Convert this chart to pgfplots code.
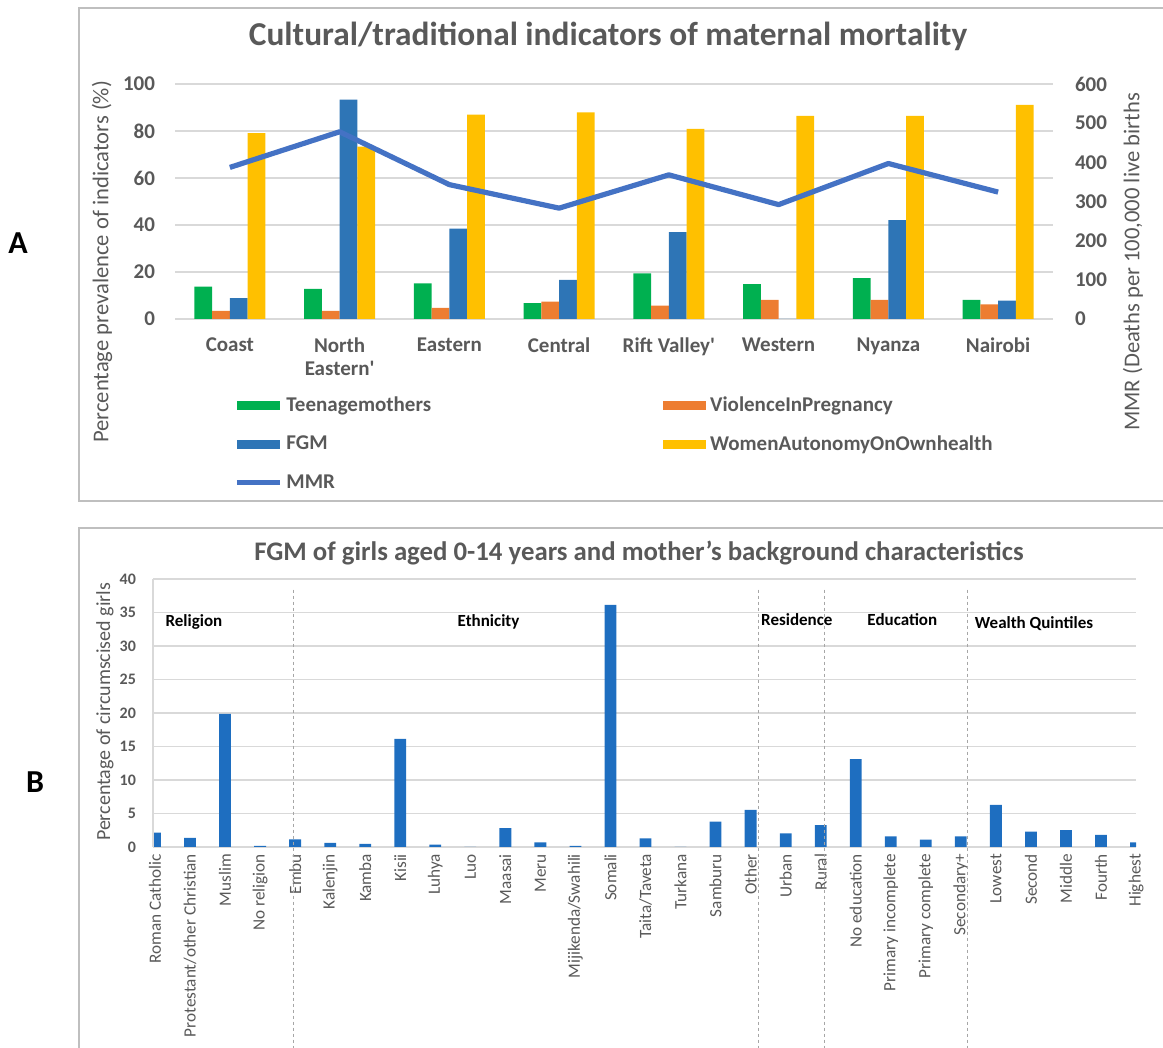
\documentclass[border=0pt]{standalone}
\usepackage{pgfplots}
\pgfplotsset{compat=1.18}
\usepackage{pgfplotstable}
\usepackage{fontspec}
\setmainfont{Carlito}
\definecolor{cgreen}{HTML}{00B050}
\definecolor{corange}{HTML}{ED7D31}
\definecolor{cblue}{HTML}{2E75B6}
\definecolor{cyellow}{HTML}{FFC000}
\definecolor{cmmr}{HTML}{4472C4}
\definecolor{cbar}{HTML}{1E6EC0}
\definecolor{tgray}{HTML}{595959}
\definecolor{ggray}{HTML}{D9D9D9}
\definecolor{fgray}{HTML}{BFBFBF}

\pgfplotstableread{
idx T V F W MMR
0 13.8 3.5 8.9 79.1 387
1 12.8 3.5 93.3 73.3 478
2 15.2 4.7 38.4 87.0 343
3 6.7 7.4 16.6 87.9 283
4 19.4 5.7 37.0 80.9 368
5 14.8 8.1 0 86.4 292
6 17.4 8.1 42.1 86.4 397
7 8.1 6.2 7.8 91.1 324
}\dataA

\pgfplotstableread{
idx val
0 2.15
1 1.35
2 19.85
3 0.15
4 1.15
5 0.6
6 0.45
7 16.15
8 0.35
9 0
10 2.8
11 0.7
12 0.15
13 36.15
14 1.3
15 0
16 3.8
17 5.55
18 2.05
19 3.25
20 13.1
21 1.6
22 1.1
23 1.6
24 6.3
25 2.3
26 2.5
27 1.8
28 0.7
}\dataB

\tikzset{sep/.style={gray!70, line width=0.4pt, dash pattern=on 1.5pt off 1.5pt}}

\begin{document}
\begin{tikzpicture}
\useasboundingbox (0,0) rectangle (581.5pt,524pt);
\clip (0,0) rectangle (581.5pt,524pt);
% frames
\draw[fgray, line width=1pt] (600pt,520pt) -- (39.5pt,520pt) -- (39.5pt,273.5pt) -- (600pt,273.5pt);
\draw[fgray, line width=1pt] (600pt,260pt) -- (39.5pt,260pt) -- (39.5pt,-10pt);
\node[font=\bfseries\fontsize{16}{18}\selectfont] at (9pt,402.5pt) {A};
\node[font=\bfseries\fontsize{16}{18}\selectfont] at (17.5pt,133pt) {B};
\node[font=\bfseries\fontsize{16.7}{19}\selectfont, text=tgray] at (304pt,506pt) {Cultural/traditional indicators of maternal mortality};
\node[font=\bfseries\fontsize{13.4}{15}\selectfont, text=tgray] at (319.5pt,247.5pt) {FGM of girls aged 0-14 years and mother’s background characteristics};

% ---------------- Panel A, left axis
\begin{axis}[
  at={(87.5pt,364.5pt)}, anchor=south west,
  scale only axis, width=439pt, height=117.5pt,
  xmin=-0.5, xmax=7.5, ymin=0, ymax=100,
  axis line style={draw=none}, major tick length=0pt,
  ymajorgrids, grid style={ggray, line width=0.6pt},
  ytick={0,20,...,100},
  xtick={0,...,7},
  xticklabels={Coast,{North\\Eastern\textquotesingle},Eastern,Central,Rift Valley\textquotesingle,Western,Nyanza,Nairobi},
  xticklabel style={font=\bfseries\fontsize{10.5}{11.5}\selectfont, text=tgray, align=center, yshift=-6pt},
  yticklabel style={font=\bfseries\fontsize{10.5}{12}\selectfont, text=tgray, xshift=-6.5pt},
  /pgf/number format/assume math mode=true,
  ylabel={Percentage prevalence of indicators (\%)},
  ylabel style={at={(axis description cs:-0.083,0.243)}, anchor=center, font=\fontsize{11.3}{13}\selectfont, text=tgray},
  legend columns=2, legend cell align=left,
  legend style={at={(axis description cs:0.0672,-0.313)}, anchor=north west, draw=none, fill=none, inner sep=0pt,
    font=\bfseries\fontsize{10.5}{12}\selectfont, nodes={text=tgray}, row sep=6.5pt,
    /tikz/every even column/.append style={column sep=114pt}},
]
\addplot[ybar, bar width=8.9pt, bar shift=-13.35pt, fill=cgreen, draw=none,
  legend image code/.code={\fill[cgreen] (0pt,-2.25pt) rectangle (21.5pt,2.25pt);}]
  table[x=idx,y=T]{\dataA};
\addlegendentry{Teenagemothers}
\addplot[ybar, bar width=8.9pt, bar shift=-4.45pt, fill=corange, draw=none,
  legend image code/.code={\fill[corange] (0pt,-2.25pt) rectangle (21.5pt,2.25pt);}]
  table[x=idx,y=V]{\dataA};
\addlegendentry{ViolenceInPregnancy}
\addplot[ybar, bar width=8.9pt, bar shift=4.45pt, fill=cblue, draw=none,
  legend image code/.code={\fill[cblue] (0pt,-2.25pt) rectangle (21.5pt,2.25pt);}]
  table[x=idx,y=F]{\dataA};
\addlegendentry{FGM}
\addplot[ybar, bar width=8.9pt, bar shift=13.35pt, fill=cyellow, draw=none,
  legend image code/.code={\fill[cyellow] (0pt,-2.25pt) rectangle (21.5pt,2.25pt);}]
  table[x=idx,y=W]{\dataA};
\addlegendentry{WomenAutonomyOnOwnhealth}
\addlegendimage{legend image code/.code={\draw[cmmr, line width=2.5pt] (0pt,0pt) -- (21.5pt,0pt);}}
\addlegendentry{MMR}
\end{axis}

% ---------------- Panel A, right axis (MMR)
\begin{axis}[
  at={(87.5pt,364.5pt)}, anchor=south west,
  scale only axis, width=439pt, height=117.5pt,
  xmin=-0.5, xmax=7.5, ymin=0, ymax=600,
  axis x line=none, axis y line*=right,
  axis line style={draw=none}, major tick length=0pt,
  ytick={0,100,...,600},
  yticklabel style={font=\bfseries\fontsize{10.5}{12}\selectfont, text=tgray, xshift=7.5pt},
  /pgf/number format/assume math mode=true,
  ylabel={MMR (Deaths per 100,000 live births},
  ylabel style={at={(axis description cs:1.091,0.243)}, anchor=center, font=\fontsize{11.3}{13}\selectfont, text=tgray},
]
\addplot[cmmr, line width=2.6pt, mark=none, line join=round] table[x=idx,y=MMR]{\dataA};
\end{axis}

% ---------------- Panel B
\begin{axis}[
  at={(76.5pt,100.5pt)}, anchor=south west,
  scale only axis, width=491.5pt, height=134pt,
  xmin=-0.057, xmax=28, ymin=0, ymax=40,
  clip mode=individual,
  axis line style={draw=none}, major tick length=0pt,
  ymajorgrids, grid style={ggray, line width=0.6pt},
  ytick={0,5,...,40},
  xtick={0,...,28},
  xticklabels={Roman Catholic,Protestant/other Christian,Muslim,No religion,Embu,Kalenjin,Kamba,Kisii,Luhya,Luo,Maasai,Meru,Mijikenda/Swahili,Somali,Taita/Taveta,Turkana,Samburu,Other,Urban,Rural,No education,Primary incomplete,Primary complete,Secondary+,Lowest,Second,Middle,Fourth,Highest},
  xticklabel style={rotate=90, anchor=east, font=\fontsize{8.6}{9.5}\selectfont, text=tgray},
  yticklabel style={font=\bfseries\fontsize{8}{9}\selectfont, text=tgray, xshift=-5pt},
  /pgf/number format/assume math mode=true,
  ylabel={Percentage of circumscised girls},
  ylabel style={at={(axis description cs:-0.049,0.504)}, anchor=center, font=\fontsize{10}{11}\selectfont, text=tgray},
]
\addplot[ybar, bar width=5.9pt, fill=cbar, draw=none] table[x=idx,y=val]{\dataB};
\draw[ggray, line width=0.6pt] (rel axis cs:0,0) -- (rel axis cs:0,1);
\draw[sep] (axis cs:3.94,38.4) -- (axis cs:3.94,-32);
\draw[sep] (axis cs:17.22,38.4) -- (axis cs:17.22,-32);
\draw[sep] (axis cs:19.1,38.4) -- (axis cs:19.1,-32);
\draw[sep] (axis cs:23.2,38.4) -- (axis cs:23.2,-32);
\node[anchor=west, font=\bfseries\fontsize{8.5}{9.5}\selectfont] at (axis cs:0.1,33.6) {Religion};
\node[font=\bfseries\fontsize{8.5}{9.5}\selectfont] at (axis cs:9.52,33.6) {Ethnicity};
\node[anchor=west, font=\bfseries\fontsize{8.5}{9.5}\selectfont] at (axis cs:17.1,34.0) {Residence};
\node[font=\bfseries\fontsize{8.5}{9.5}\selectfont] at (axis cs:21.33,33.9) {Education};
\node[anchor=west, font=\bfseries\fontsize{8.5}{9.5}\selectfont] at (axis cs:23.2,33.3) {Wealth Quintiles};
\end{axis}
\end{tikzpicture}
\end{document}
